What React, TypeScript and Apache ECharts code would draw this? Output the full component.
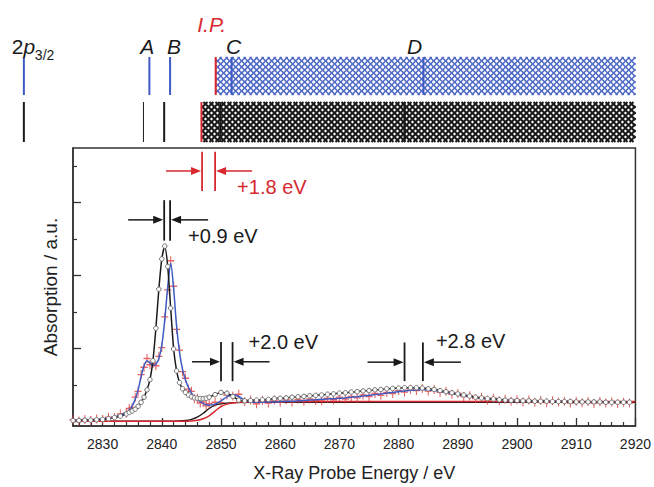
import React, { useEffect, useRef } from 'react';
import * as echarts from 'echarts';

// ---------------- data ----------------
const energy = [
  2825, 2826, 2827, 2828, 2829, 2830, 2831, 2832, 2833, 2834,
  2834.5, 2835, 2835.5, 2836, 2836.5, 2837, 2837.5, 2838, 2838.5, 2839,
  2839.5, 2840, 2840.5, 2841, 2841.5, 2842, 2842.5, 2843, 2843.5, 2844,
  2844.5, 2845, 2845.5, 2846, 2846.5, 2847, 2847.5, 2848,
  2849, 2850, 2851, 2852, 2853, 2854, 2855, 2856, 2857, 2858,
  2859, 2860, 2861, 2862, 2863, 2864, 2865, 2866, 2867, 2868,
  2869, 2870, 2871, 2872, 2873, 2874, 2875, 2876, 2877, 2878,
  2879, 2880, 2881, 2882, 2883, 2884, 2885, 2886, 2887, 2888,
  2889, 2890, 2891, 2892, 2893, 2894, 2895, 2896, 2897, 2898,
  2899, 2900, 2901, 2902, 2903, 2904, 2905, 2906, 2907, 2908,
  2909, 2910, 2911, 2912, 2913, 2914, 2915, 2916, 2917, 2918, 2919,
];

// reference spectrum (grey circles, black line)
const refSpectrum = [
  0.02, 0.02, 0.03, 0.03, 0.04, 0.05, 0.07, 0.10, 0.14, 0.20,
  0.24, 0.28, 0.33, 0.41, 0.52, 0.66, 0.86, 1.14, 1.66, 2.55,
  3.62, 4.45, 4.80, 4.24, 3.10, 1.98, 1.38, 1.06, 0.89, 0.79,
  0.72, 0.67, 0.64, 0.63, 0.62, 0.62, 0.63, 0.66,
  0.73, 0.79, 0.77, 0.68, 0.58, 0.56, 0.57, 0.58, 0.59, 0.60,
  0.62, 0.63, 0.64, 0.66, 0.67, 0.68, 0.70, 0.71, 0.72, 0.74,
  0.75, 0.77, 0.78, 0.80, 0.81, 0.83, 0.84, 0.86, 0.87, 0.89,
  0.90, 0.91, 0.92, 0.92, 0.92, 0.91, 0.89, 0.87, 0.84, 0.81,
  0.78, 0.75, 0.72, 0.69, 0.66, 0.64, 0.62, 0.61, 0.59, 0.58,
  0.57, 0.57, 0.56, 0.56, 0.55, 0.55, 0.55, 0.54, 0.54, 0.54,
  0.54, 0.53, 0.53, 0.53, 0.53, 0.53, 0.52, 0.52, 0.52, 0.52, 0.52,
];

// fit through the shifted spectrum (blue line)
const fitSpectrum = [
  0.02, 0.03, 0.03, 0.04, 0.05, 0.07, 0.09, 0.12, 0.17, 0.24,
  0.31, 0.42, 0.60, 0.86, 1.22, 1.52, 1.66, 1.60, 1.53, 1.56,
  1.72, 2.08, 2.78, 3.68, 4.33, 3.62, 2.60, 1.88, 1.42, 1.13,
  0.93, 0.78, 0.67, 0.59, 0.54, 0.49, 0.45, 0.44,
  0.47, 0.56, 0.67, 0.73, 0.68, 0.58, 0.53, 0.52, 0.52, 0.53,
  0.53, 0.54, 0.55, 0.55, 0.56, 0.57, 0.58, 0.59, 0.60, 0.61,
  0.62, 0.63, 0.64, 0.66, 0.67, 0.69, 0.71, 0.73, 0.75, 0.77,
  0.79, 0.81, 0.83, 0.85, 0.86, 0.87, 0.86, 0.84, 0.82, 0.79,
  0.76, 0.73, 0.70, 0.67, 0.65, 0.63, 0.61, 0.60, 0.59, 0.58,
  0.57, 0.57, 0.56, 0.56, 0.55, 0.55, 0.55, 0.54, 0.54, 0.54,
  0.54, 0.53, 0.53, 0.53, 0.53, 0.53, 0.52, 0.52, 0.52, 0.52, 0.52,
];

// measured shifted spectrum (red crosses)
const measSpectrum = [
  0.04, 0.01, 0.05, 0.02, 0.06, 0.05, 0.11, 0.10, 0.20, 0.22,
  0.35, 0.38, 0.66, 0.82, 1.28, 1.48, 1.72, 1.55, 1.58, 1.52,
  1.78, 2.02, 2.86, 3.60, 4.40, 3.70, 2.52, 1.95, 1.36, 1.18,
  0.88, 0.82, 0.62, 0.63, 0.50, 0.53, 0.42, 0.48,
  0.52, 0.51, 0.72, 0.69, 0.74, 0.54, 0.58, 0.48, 0.57, 0.50,
  0.58, 0.52, 0.59, 0.53, 0.60, 0.55, 0.61, 0.57, 0.56, 0.63,
  0.59, 0.66, 0.61, 0.68, 0.64, 0.72, 0.68, 0.76, 0.71, 0.79,
  0.76, 0.84, 0.80, 0.88, 0.84, 0.90, 0.83, 0.87, 0.79, 0.82,
  0.74, 0.76, 0.68, 0.70, 0.62, 0.66, 0.58, 0.63, 0.56, 0.60,
  0.55, 0.59, 0.53, 0.58, 0.52, 0.57, 0.51, 0.56, 0.53, 0.55,
  0.50, 0.55, 0.51, 0.54, 0.49, 0.54, 0.50, 0.53, 0.49, 0.52, 0.50,
];

// edge-step functions
const stepBlackE = [2825, 2842, 2844, 2845, 2846, 2847, 2848, 2849, 2850, 2852, 2855, 2920];
const stepBlackY = [0, 0, 0.02, 0.05, 0.11, 0.22, 0.35, 0.44, 0.48, 0.51, 0.52, 0.52];
const stepRedE = [2825, 2844, 2846, 2847, 2848, 2849, 2850, 2851, 2852, 2854, 2858, 2920];
const stepRedY = [0, 0, 0.03, 0.07, 0.15, 0.28, 0.40, 0.47, 0.50, 0.53, 0.54, 0.54];

// transition energies (top ladder)
const transLabels = ['2p', 'A', 'B', 'C', 'D'];
const transBlue = [2816.7, 2837.9, 2841.4, 2851.8, 2884.2];
const transBlack = [2816.7, 2836.9, 2840.4, 2849.9, 2881.0];
const ionPotentials = [2849.1, 2846.7]; // blue, black

// shift annotations
const shiftLow = [2846.8, 2840.4, 2850.0, 2881.0];
const shiftHigh = [2849.0, 2841.4, 2851.95, 2884.1];
const shiftLabels = ['+1.8 eV', '+0.9 eV', '+2.0 eV', '+2.8 eV'];

// axis ticks
const xMajorTicks = [2830, 2840, 2850, 2860, 2870, 2880, 2890, 2900, 2910, 2920];
const xMinorTicks = [2826, 2828, 2832, 2834, 2836, 2838, 2842, 2844, 2846, 2848, 2852, 2854, 2856, 2858,
  2862, 2864, 2866, 2868, 2872, 2874, 2876, 2878, 2882, 2884, 2886, 2888, 2892, 2894, 2896, 2898,
  2902, 2904, 2906, 2908, 2912, 2914, 2916, 2918];
const yMajorTicks = [0, 2, 4, 6];
const yMinorTicks = [1, 3, 5, 7];

// ---------------- styles / layout ----------------
const FONT = '"Liberation Sans", Arial, Helvetica, sans-serif';
const RED = '#d7282f';
const BLUE = '#3d5bc2';
const BLUE_HATCH = '#4d68c6';
const DARK = '#1a1a1a';
const AXIS = '#333333';
const X_MIN = 2825;
const X_MAX = 2920;

const bandRows = [
  { top: 57, bottom: 95, color: BLUE_HATCH, lw: 1.5 },
  { top: 102, bottom: 142, color: DARK, lw: 2.0 },
];
const HATCH_PERIOD = 6;
const blackLineWidths = [2, 1, 2, 2.2, 2.2];
const labelNudge = [-12, -2, 4, 2, -9];
const annLayout = [
  { top: 7.39, bottom: 6.31, arrow: 6.86, text: 6.42, dx: 22, left: 35, right: 36, color: RED },
  { top: 6.06, bottom: 4.95, arrow: 5.52, text: 5.08, dx: 18, left: 35, right: 37, color: DARK },
  { top: 2.17, bottom: 1.10, arrow: 1.63, text: 2.17, dx: 16, left: 28, right: 36, color: DARK },
  { top: 2.16, bottom: 1.10, arrow: 1.62, text: 2.21, dx: 13, left: 36, right: 37, color: DARK },
];

function hatch(x0: number, x1: number, y0: number, y1: number, s: number, color: string, lw: number) {
  const out: any[] = [];
  const h = y1 - y0;
  const st = { stroke: color, lineWidth: lw };
  for (let c = x0 - h; c <= x1; c += s) {
    const ta = Math.max(0, x0 - c);
    const tb = Math.min(h, x1 - c);
    if (tb > ta) out.push({ type: 'line', shape: { x1: c + ta, y1: y0 + ta, x2: c + tb, y2: y0 + tb }, style: st });
  }
  for (let c = x0; c <= x1 + h; c += s) {
    const ta = Math.max(0, c - x1);
    const tb = Math.min(h, c - x0);
    if (tb > ta) out.push({ type: 'line', shape: { x1: c - ta, y1: y0 + ta, x2: c - tb, y2: y0 + tb }, style: st });
  }
  return out;
}

function txt(x: number, y: number, text: string, extra: any) {
  return {
    type: 'text',
    x,
    y,
    style: Object.assign({ text, fontFamily: FONT, fontSize: 20, fill: DARK, align: 'left', verticalAlign: 'middle' }, extra),
  };
}

function buildOption() {
  const pairs = (xs: number[], ys: number[]) => xs.map((x, i) => [x, ys[i]]);

  const series: any[] = [
    {
      type: 'line', name: 'stepBlack', data: pairs(stepBlackE, stepBlackY), smooth: 0.3, showSymbol: false,
      lineStyle: { color: DARK, width: 1.4 }, z: 2,
    },
    {
      type: 'line', name: 'stepRed', data: pairs(stepRedE, stepRedY), smooth: 0.3, showSymbol: false,
      lineStyle: { color: RED, width: 1.5 }, z: 2,
    },
    {
      type: 'scatter', name: 'measured', data: pairs(energy, measSpectrum),
      symbol: 'path://M0,5L10,5M5,0L5,10', symbolSize: [7, 9],
      itemStyle: { color: 'transparent', borderColor: '#e03a3a', borderWidth: 1.2 }, z: 3,
    },
    {
      type: 'line', name: 'fit', data: pairs(energy, fitSpectrum), smooth: 0.3, showSymbol: false,
      lineStyle: { color: BLUE, width: 1.5 }, z: 4,
    },
    {
      type: 'line', name: 'reference', data: pairs(energy, refSpectrum), smooth: 0.25,
      symbol: 'circle', symbolSize: 4.5, showSymbol: true,
      lineStyle: { color: DARK, width: 1.5 },
      itemStyle: { color: '#ffffff', borderColor: '#707070', borderWidth: 1 }, z: 5,
    },
    // hatched continuum bands
    {
      type: 'custom', name: 'bands', clip: false, z: 6,
      data: ionPotentials.map((e) => [e, 0]),
      renderItem: (params: any, api: any) => {
        const i = params.dataIndex;
        const row = bandRows[i];
        const x0 = api.coord([api.value(0), 0])[0];
        const x1 = api.coord([X_MAX, 0])[0];
        const children: any[] = hatch(x0, x1, row.top, row.bottom, HATCH_PERIOD, row.color, row.lw);
        children.push({ type: 'line', shape: { x1: x0, y1: row.top, x2: x0, y2: row.bottom }, style: { stroke: RED, lineWidth: 2 } });
        if (i === 0) {
          children.push(txt(x0 - 4, 24, 'I.P.', { fill: RED, fontSize: 21, fontStyle: 'italic', align: 'center' }));
        }
        return { type: 'group', children };
      },
    },
    // blue transition lines
    {
      type: 'custom', name: 'blueLines', clip: false, z: 7,
      data: transBlue.map((e) => [e, 0]),
      renderItem: (params: any, api: any) => {
        const x = api.coord([api.value(0), 0])[0];
        const r = bandRows[0];
        return { type: 'line', shape: { x1: x, y1: r.top, x2: x, y2: r.bottom }, style: { stroke: BLUE, lineWidth: 2 } };
      },
    },
    // black transition lines
    {
      type: 'custom', name: 'blackLines', clip: false, z: 7,
      data: transBlack.map((e) => [e, 0]),
      renderItem: (params: any, api: any) => {
        const x = api.coord([api.value(0), 0])[0];
        const r = bandRows[1];
        return { type: 'line', shape: { x1: x, y1: r.top, x2: x, y2: r.bottom }, style: { stroke: DARK, lineWidth: blackLineWidths[params.dataIndex] } };
      },
    },
    // transition labels
    {
      type: 'custom', name: 'labels', clip: false, z: 7,
      data: transBlue.map((e) => [e, 0]),
      renderItem: (params: any, api: any) => {
        const i = params.dataIndex;
        const x = api.coord([api.value(0), 0])[0] + labelNudge[i];
        if (i === 0) {
          return {
            type: 'group',
            children: [
              {
                type: 'text', x, y: 46,
                style: {
                  text: '{n|2}{i|p}', align: 'left', verticalAlign: 'middle', fill: DARK,
                  fontFamily: FONT, fontSize: 21,
                  rich: {
                    n: { fontFamily: FONT, fontSize: 21, fontStyle: 'normal', fill: DARK },
                    i: { fontFamily: FONT, fontSize: 21, fontStyle: 'italic', fill: DARK },
                  },
                },
              },
              txt(x + 23, 55, '3/2', { fontSize: 14 }),
            ],
          };
        }
        return txt(x, 46, transLabels[i], { fontSize: 21, fontStyle: 'italic', align: 'center' });
      },
    },
    // shift annotations
    {
      type: 'custom', name: 'shifts', clip: false, z: 8,
      data: shiftLow.map((lo, i) => [lo, shiftHigh[i]]),
      renderItem: (params: any, api: any) => {
        const i = params.dataIndex;
        const L = annLayout[i];
        const xa = api.coord([api.value(0), 0])[0];
        const xb = api.coord([api.value(1), 0])[0];
        const yt = api.coord([X_MIN, L.top])[1];
        const yb = api.coord([X_MIN, L.bottom])[1];
        const ya = api.coord([X_MIN, L.arrow])[1];
        const ytx = api.coord([X_MIN, L.text])[1];
        const c = L.color;
        const tipL = xa - 1;
        const tipR = xb + 1;
        return {
          type: 'group',
          children: [
            { type: 'line', shape: { x1: xa, y1: yt, x2: xa, y2: yb }, style: { stroke: c, lineWidth: 1.8 } },
            { type: 'line', shape: { x1: xb, y1: yt, x2: xb, y2: yb }, style: { stroke: c, lineWidth: 1.8 } },
            { type: 'line', shape: { x1: tipL - L.left, y1: ya, x2: tipL - 9, y2: ya }, style: { stroke: c, lineWidth: 1.5 } },
            { type: 'polygon', shape: { points: [[tipL, ya], [tipL - 10, ya - 4], [tipL - 10, ya + 4]] }, style: { fill: c } },
            { type: 'line', shape: { x1: tipR + 9, y1: ya, x2: tipR + L.right, y2: ya }, style: { stroke: c, lineWidth: 1.5 } },
            { type: 'polygon', shape: { points: [[tipR, ya], [tipR + 10, ya - 4], [tipR + 10, ya + 4]] }, style: { fill: c } },
            txt(xb + L.dx, ytx, shiftLabels[i], { fill: c, fontSize: 20 }),
          ],
        };
      },
    },
  ];

  return {
    animation: false,
    backgroundColor: '#ffffff',
    textStyle: { fontFamily: FONT },
    grid: { left: 73, right: 18, top: 148, bottom: 55, show: true, borderColor: AXIS, borderWidth: 1.5, backgroundColor: 'transparent' },
    xAxis: [
      {
        type: 'value', min: X_MIN, max: X_MAX, position: 'bottom',
        axisLine: { show: true, onZero: false, lineStyle: { color: AXIS, width: 1.5 } },
        axisTick: { show: true, inside: true, length: 8, customValues: xMajorTicks, lineStyle: { color: AXIS, width: 1.3 } },
        axisLabel: {
          show: true, customValues: xMajorTicks, fontSize: 14, color: '#222', margin: 11, fontFamily: FONT,
          formatter: (v: number) => String(v),
        },
        splitLine: { show: false },
        name: 'X-Ray Probe Energy / eV', nameLocation: 'middle', nameGap: 38,
        nameTextStyle: { fontSize: 18, color: '#222', fontFamily: FONT },
      },
      {
        type: 'value', min: X_MIN, max: X_MAX, position: 'bottom',
        axisLine: { show: false, onZero: false },
        axisTick: { show: true, inside: true, length: 4, customValues: xMinorTicks, lineStyle: { color: AXIS, width: 1.2 } },
        axisLabel: { show: false },
        splitLine: { show: false },
      },
    ],
    yAxis: [
      {
        type: 'value', min: -0.13, max: 7.49, position: 'left',
        axisLine: { show: true, onZero: false, lineStyle: { color: AXIS, width: 1.5 } },
        axisTick: { show: true, inside: true, length: 8, customValues: yMajorTicks, lineStyle: { color: AXIS, width: 1.3 } },
        axisLabel: { show: false },
        splitLine: { show: false },
        name: 'Absorption / a.u.', nameLocation: 'middle', nameGap: 13,
        nameTextStyle: { fontSize: 19, color: '#222', fontFamily: FONT },
      },
      {
        type: 'value', min: -0.13, max: 7.49, position: 'left',
        axisLine: { show: false, onZero: false },
        axisTick: { show: true, inside: true, length: 4, customValues: yMinorTicks, lineStyle: { color: AXIS, width: 1.2 } },
        axisLabel: { show: false },
        splitLine: { show: false },
      },
    ],
    series,
  };
}

export default function App() {
  const ref = useRef<HTMLDivElement>(null);
  useEffect(() => {
    if (!ref.current) return;
    const chart = echarts.init(ref.current, null, { renderer: 'svg' });
    chart.setOption(buildOption() as any);
    return () => chart.dispose();
  }, []);
  return (
    <div
      ref={ref}
      style={{ position: 'absolute', left: 0, top: 0, width: 654, height: 487, background: '#fff' }}
    />
  );
}
